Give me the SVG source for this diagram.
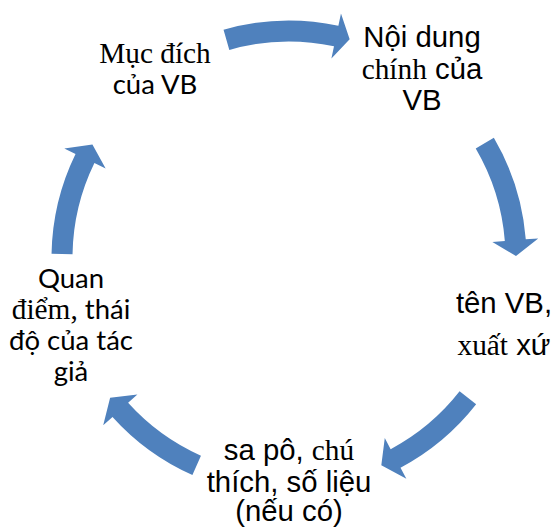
<svg xmlns="http://www.w3.org/2000/svg" width="553" height="527" viewBox="0 0 553 527">
<style>
.arrow{fill:#4f81bd;stroke:none}
text{font-size:29.33px;fill:#000;text-anchor:middle}
.sa{font-family:"Liberation Sans",Arial,sans-serif}
.se{font-family:"Liberation Serif","Times New Roman",serif}
.ca{font-family:Lato,"Liberation Sans",sans-serif;font-size:27.5px}
</style>
<rect width="553" height="527" fill="#fff"/>
<g id="connectors">
<path class="arrow" d="M223.54,29.69 A237.5,237.5 0 0 1 338.38,25.70 L340.98,13.47 L349.66,39.26 L331.41,58.47 L334.01,46.24 A216.5,216.5 0 0 0 229.33,49.88 Z"/>
<path class="arrow" d="M493.84,137.82 A237.5,237.5 0 0 1 525.77,239.37 L538.23,238.38 L516,256 L492.37,241.99 L504.83,241.01 A216.5,216.5 0 0 0 475.73,148.45 Z"/>
<path class="arrow" d="M476.15,404.23 A237.5,237.5 0 0 1 400.51,467.69 L406.38,478.73 L381.32,465.36 L384.78,438.11 L390.65,449.15 A216.5,216.5 0 0 0 459.60,391.30 Z"/>
<path class="arrow" d="M192.41,474.96 A237.5,237.5 0 0 1 112.51,416.91 L103.22,425.28 L110.12,397.76 L137.41,394.50 L128.12,402.86 A216.5,216.5 0 0 0 200.95,455.77 Z"/>
<path class="arrow" d="M51.54,253.86 A237.5,237.5 0 0 1 75.53,153.88 L64.30,148.40 L92.42,144.5 L105.64,168.57 L94.41,163.09 A216.5,216.5 0 0 0 72.53,254.22 Z"/>
</g>
<g id="node1">
<text class="se" x="155" y="63">Mục đích</text>
<text class="ca" x="155" y="94">của VB</text>
</g>
<g id="node2">
<text class="sa" x="422" y="47">Nội dung</text>
<text x="422" y="79"><tspan class="se">chính</tspan><tspan class="sa"> của</tspan></text>
<text class="sa" x="422" y="110">VB</text>
</g>
<g id="node3">
<text class="sa" x="504" y="313">tên VB,</text>
<text x="504" y="355"><tspan class="se">xuất</tspan><tspan class="sa"> xứ</tspan></text>
</g>
<g id="node4">
<text x="289" y="460"><tspan class="sa">sa pô, </tspan><tspan class="se">chú</tspan></text>
<text class="sa" x="289" y="492">thích, số liệu</text>
<text class="sa" x="289" y="521">(nếu có)</text>
</g>
<g id="node5">
<text class="ca" x="71" y="288">Quan</text>
<text x="71" y="319"><tspan class="se">điểm,</tspan><tspan class="ca"> thái</tspan></text>
<text class="ca" x="71" y="350">độ của tác</text>
<text class="ca" x="71" y="381">giả</text>
</g>
</svg>
